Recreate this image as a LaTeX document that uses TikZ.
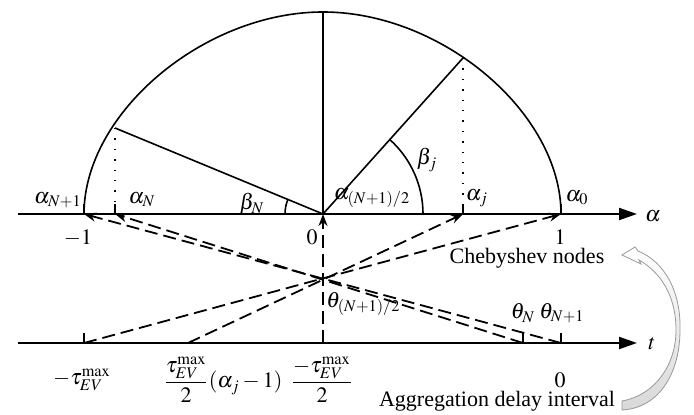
\documentclass[tikz,border=0pt]{standalone}
\usepackage{amsmath}
\usepackage{mathptmx}
\usepackage{fontspec}
\setmainfont{Liberation Serif}
\usetikzlibrary{arrows.meta}

\tikzset{
  axis/.style={line width=1pt, -{Triangle[length=9pt,width=6pt]}},
  rim/.style={line width=0.8pt},
  proj/.style={line width=0.7pt, dash pattern=on 0.7pt off 4.5pt},
  map/.style={line width=0.9pt, dash pattern=on 6.5pt off 3pt, -{Stealth[length=6pt,width=4.5pt]}},
  tickmark/.style={line width=0.8pt},
  lbl/.style={inner sep=0pt, font=\fontsize{11}{13}\selectfont},
  fatarrow/.style={draw=gray!80, line width=0.4pt, top color=white, bottom color=gray!30},
}

\begin{document}
\begin{tikzpicture}[x=0.5pt, y=-0.5pt]
  \useasboundingbox (0,0) rectangle (694,415);

  \coordinate (O) at (323,214);
  \coordinate (aL) at (18,214);
  \coordinate (aR) at (637,214);
  \coordinate (aN1) at (84,214);
  \coordinate (aN) at (115,214);
  \coordinate (aj) at (463,214);
  \coordinate (a0) at (561,214);
  \coordinate (top) at (323,12);
  \coordinate (pN) at (115,128);
  \coordinate (pj) at (463,58);
  \coordinate (tL) at (18,343);
  \coordinate (tR) at (637,343);
  \coordinate (tmin) at (84,343);
  \coordinate (tj) at (188,343);
  \coordinate (tmid) at (323,343);
  \coordinate (tN) at (523,343);
  \coordinate (tN1) at (561,343);

  \draw[axis] (aL) -- (aR);
  \draw[axis] (tL) -- (tR);

  \draw[rim] (a0) .. controls (561,113) and (442,12) .. (top)
                  .. controls (204,12) and (84,113) .. (aN1);
  \draw[rim] (O) -- (top);
  \draw[rim] (O) -- (pN);
  \draw[rim] (O) -- (pj);
  \draw[rim] (O) ++(-38,0) arc[start angle=180, end angle=202.5, radius=38];
  \draw[rim] (O) ++(100,0) arc[start angle=0, end angle=-48.1, radius=100];
  \draw[proj] (pN) -- (aN);
  \draw[proj] (pj) -- (aj);

  \foreach \p in {aN1,aN,aj,a0,tmin,tmid,tN,tN1}
    \draw[tickmark] (\p) -- ++(0,-10);

  \draw[map] (tmin) -- (a0);
  \draw[map] (tj) -- (aj);
  \draw[map] (tmid) -- (O);
  \draw[map] (tN) -- (aN);
  \draw[map] (tN1) -- (aN1);

  \node[lbl] (lN1) at (58,200) {$\alpha_{N+1}$};
  \node[lbl] (lN) at (142,200) {$\alpha_N$};
  \node[lbl] (lbN) at (252,204) {$\beta_N$};
  \node[lbl] (lmid) at (372,198) {$\alpha_{(N+1)/2}$};
  \node[lbl] (lbj) at (427,160) {$\beta_j$};
  \node[lbl] (lj) at (477,198) {$\alpha_j$};
  \node[lbl] (l0) at (577,198) {$\alpha_0$};
  \node[lbl] (la) at (653,216) {$\alpha$};
  \node[lbl] (lm1) at (78,238) {$-1$};
  \node[lbl] (lz) at (312,237) {$0$};
  \node[lbl] (lone) at (560,237) {$1$};
  \node[lbl] (cheb) at (527,258) {Chebyshev nodes};
  \node[lbl, anchor=west] (th) at (326,304) {$\theta_{(N+1)/2}$};
  \node[lbl] (thN) at (523,313) {$\theta_N$};
  \node[lbl] (thN1) at (562,313) {$\theta_{N+1}$};
  \node[lbl] (lt) at (652,344) {$t$};
  \node[lbl] (tauA) at (82,380) {$-\tau_{EV}^{\max}$};
  \node[lbl] (tauB) at (223,380) {$\dfrac{\tau_{EV}^{\max}}{2}(\alpha_j-1)$};
  \node[lbl] (tauC) at (322,380) {$\dfrac{-\tau_{EV}^{\max}}{2}$};
  \node[lbl] (lzt) at (560,380) {$0$};
  \node[lbl] (agg) at (497,401) {Aggregation delay interval};

  \coordinate (tailT) at (622,401);
  \coordinate (tailB) at (622,410);
  \coordinate (tip) at (622,255);
  \draw[fatarrow] (tailT) .. controls (655,395) and (676,365) .. (676,330)
        .. controls (676,295) and (660,272) .. (639,260)
        -- (641,264) -- (tip) -- (635,247) -- (638,251)
        .. controls (665,262) and (681,292) .. (680,330)
        .. controls (680,372) and (660,408) .. (tailB) -- cycle;
\end{tikzpicture}
\end{document}
